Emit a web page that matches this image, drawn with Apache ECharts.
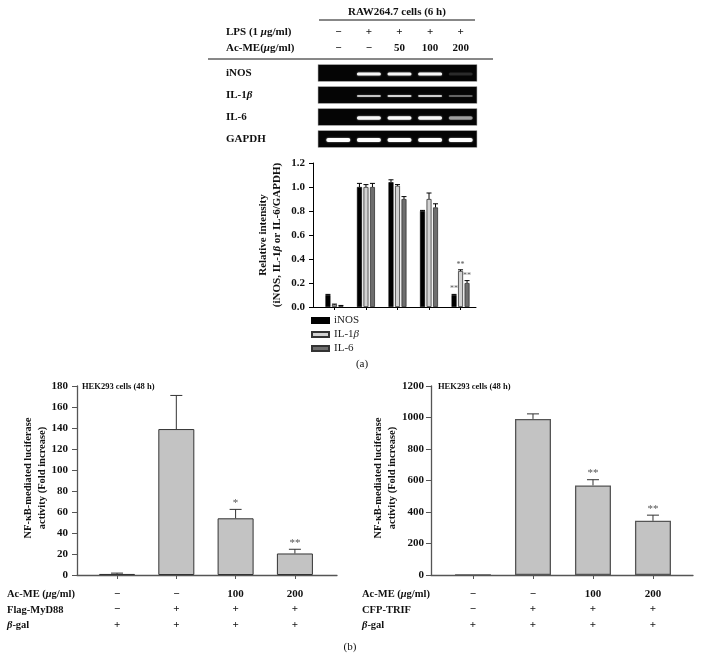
<!DOCTYPE html>
<html><head><meta charset="utf-8">
<script src="https://cdn.jsdelivr.net/npm/echarts@6/dist/echarts.min.js"></script>
<style>html,body{margin:0;padding:0;background:#fff}#c{width:701px;height:669px}</style>
</head><body><div id="c"></div><script>
// ---------- data ----------
const lanes = ['L1','L2','L3','L4','L5'];
const lpsRow = ['−','+','+','+','+'];
const acmeRowA = ['−','−','50','100','200'];
const genes = ['iNOS','IL-1β','IL-6','GAPDH'];
const bandINOS = [0, 0.95, 0.95, 0.95, 0.15];
const bandIL1b = [0, 0.7, 0.78, 0.75, 0.35];
const bandIL6  = [0, 0.95, 0.97, 0.95, 0.55];
const bandGAPDH = [1, 1, 1, 1, 1];

const groupsA = [0, 1, 2, 3, 4];
const inosVals = [0.10, 1.00, 1.04, 0.80, 0.10];
const inosErr  = [0.005, 0.03, 0.02, 0.005, 0.005];
const il1bVals = [0.02, 1.00, 1.01, 0.90, 0.30];
const il1bErr  = [0.004, 0.02, 0.01, 0.05, 0.01];
const il6Vals  = [0.01, 1.00, 0.90, 0.83, 0.20];
const il6Err   = [0.003, 0.03, 0.02, 0.03, 0.02];
const starsA = {iNOS:['','','','','**'], il1b:['','','','','**'], il6:['','','','','**']};
const yTicksA = {min:0, max:1.2, step:0.2};

const groupsB = [0, 1, 2, 3];
const mydVals = [1, 139, 54, 20.5];
const mydErr  = [0.8, 32, 8.5, 4];
const mydStars = ['', '', '*', '**'];
const trifVals = [1, 991, 569, 344];
const trifErr  = [0, 32, 36, 36];
const trifStars = ['', '', '**', '**'];
const acmeRowB = ['−','−','100','200'];
const mydRow = ['−','+','+','+'];
const trifRow = ['−','+','+','+'];
const bgalRow = ['+','+','+','+'];
const yTicksL = {min:0, max:180, step:20};
const yTicksR = {min:0, max:1200, step:200};

// ---------- styles ----------
const FF = 'Liberation Serif';
const chart = echarts.init(document.getElementById('c'), null, {renderer:'canvas'});

function errRender(offset, capW, errs, stars, color, starSize){
  return function(params, api){
    const i = params.dataIndex;
    const x = api.value(0), y = api.value(1);
    const e = errs[i];
    const p0 = api.coord([x, y]);
    const p1 = api.coord([x, y + e]);
    const cx = p0[0] + offset;
    const ch = [];
    if (e > 0) {
      ch.push({type:'line', shape:{x1:cx, y1:p0[1], x2:cx, y2:p1[1]}, style:{stroke:color, lineWidth:1}});
      ch.push({type:'line', shape:{x1:cx-capW/2, y1:p1[1], x2:cx+capW/2, y2:p1[1]}, style:{stroke:color, lineWidth:1}});
    }
    if (stars && stars[i]) {
      ch.push({type:'text', x:cx, y:p1[1]-1, style:{text:stars[i], align:'center', verticalAlign:'bottom', textAlign:'center', textVerticalAlign:'bottom', fontFamily:FF, fontSize:starSize, fill:'#555'}});
    }
    return {type:'group', children:ch};
  };
}

const gelData = [];
[bandINOS, bandIL1b, bandIL6, bandGAPDH].forEach((arr, g) => arr.forEach((v, l) => gelData.push([l, g, v])));
const bandThick = [3, 2.2, 3.5, 4];

function txt(x, y, text, opt){
  opt = opt || {};
  return {type:'text', x:x, y:y, rotation:opt.rot||0, silent:true,
    style:{text:text, fontFamily:FF, fontSize:opt.size||11, fontWeight:opt.weight||'bold', fill:'#111',
      align:opt.align||'left', verticalAlign:'middle', textAlign:opt.align||'left', textVerticalAlign:'middle',
      rich:{i:{fontStyle:'italic', fontFamily:FF, fontSize:opt.size||11, fontWeight:opt.weight||'bold', fill:'#111'}}}};
}

const option = {
  backgroundColor:'#fff',
  animation:false,
  legend:{
    data:['iNOS','IL-1β','IL-6'], orient:'vertical', left:311, top:314, padding:0,
    itemWidth:17, itemHeight:5, itemGap:1, icon:'rect',
    textStyle:{fontFamily:FF, fontSize:11, color:'#222', lineHeight:13,
      rich:{i:{fontStyle:'italic', fontFamily:FF, fontSize:11, color:'#222'}}},
    formatter: n => n.replace('β', '{i|β}')
  },
  grid:[
    {left:313, top:163, width:163, height:144},   // (a) bars
    {left:77, top:386, width:260, height:189},    // (b) left
    {left:431, top:386, width:262, height:189},   // (b) right
    {left:323, top:62, width:153, height:88}      // gels
  ],
  xAxis:[
    {gridIndex:0, type:'value', min:-0.68, max:4.49,
      axisLine:{onZero:false, lineStyle:{color:'#000', width:1}}, splitLine:{show:false},
      axisTick:{show:true, customValues:groupsA, length:3, lineStyle:{color:'#000'}},
      axisLabel:{show:false}},
    {gridIndex:1, type:'value', min:-0.675, max:3.71,
      axisLine:{onZero:false, lineStyle:{color:'#555', width:1.3}}, splitLine:{show:false},
      axisTick:{show:true, customValues:groupsB, length:4, lineStyle:{color:'#555'}},
      axisLabel:{show:true, customValues:groupsB, margin:11, fontFamily:FF, fontSize:11, fontWeight:'bold', color:'#111', lineHeight:15.5,
        formatter: v => acmeRowB[v] + '\n' + mydRow[v] + '\n' + bgalRow[v]}},
    {gridIndex:2, type:'value', min:-0.7, max:3.667,
      axisLine:{onZero:false, lineStyle:{color:'#555', width:1.3}}, splitLine:{show:false},
      axisTick:{show:true, customValues:groupsB, length:4, lineStyle:{color:'#555'}},
      axisLabel:{show:true, customValues:groupsB, margin:11, fontFamily:FF, fontSize:11, fontWeight:'bold', color:'#111', lineHeight:15.5,
        formatter: v => acmeRowB[v] + '\n' + trifRow[v] + '\n' + bgalRow[v]}},
    {gridIndex:3, type:'category', data:lanes, position:'top', boundaryGap:true,
      axisLine:{show:false}, axisTick:{show:false},
      axisLabel:{margin:6, fontFamily:FF, fontSize:11, fontWeight:'bold', color:'#111', lineHeight:16,
        formatter: (v, i) => lpsRow[i] + '\n' + acmeRowA[i]}}
  ],
  yAxis:[
    {gridIndex:0, type:'value', min:yTicksA.min, max:yTicksA.max, interval:yTicksA.step,
      axisLine:{show:true, onZero:false, lineStyle:{color:'#000'}}, splitLine:{show:false},
      axisTick:{show:true, length:4, lineStyle:{color:'#000'}},
      axisLabel:{margin:8, fontFamily:FF, fontSize:11, fontWeight:'bold', color:'#111', formatter: v => v.toFixed(1)}},
    {gridIndex:1, type:'value', min:yTicksL.min, max:yTicksL.max, interval:yTicksL.step,
      axisLine:{show:true, onZero:false, lineStyle:{color:'#555', width:1.3}}, splitLine:{show:false},
      axisTick:{show:true, length:5, lineStyle:{color:'#555'}},
      axisLabel:{margin:9, fontFamily:FF, fontSize:11, fontWeight:'bold', color:'#111', formatter: v => String(v)}},
    {gridIndex:2, type:'value', min:yTicksR.min, max:yTicksR.max, interval:yTicksR.step,
      axisLine:{show:true, onZero:false, lineStyle:{color:'#555', width:1.3}}, splitLine:{show:false},
      axisTick:{show:true, length:5, lineStyle:{color:'#555'}},
      axisLabel:{margin:7, fontFamily:FF, fontSize:11, fontWeight:'bold', color:'#111', formatter: v => String(v)}},
    {gridIndex:3, type:'category', data:genes, inverse:true,
      axisLine:{show:false}, axisTick:{show:false},
      axisLabel:{align:'left', margin:97, fontFamily:FF, fontSize:11, fontWeight:'bold', color:'#111',
        formatter: v => v.replace('β', '{i|β}'),
        rich:{i:{fontStyle:'italic', fontFamily:FF, fontSize:11, fontWeight:'bold', color:'#111'}}}}
  ],
  series:[
    // gels: dark boxes
    {type:'custom', xAxisIndex:3, yAxisIndex:3, silent:true, z:1,
      data:genes.map((g, i) => [0, i]),
      renderItem:(params, api) => {
        const c = api.coord([0, api.value(1)]);
        const cs = params.coordSys;
        return {type:'rect', shape:{x:cs.x-5, y:c[1]-8.5, width:cs.width+6, height:17},
          style:{fill:'#050505', stroke:'#bbb', lineWidth:0.6}};
      }},
    // gels: bands
    {type:'custom', xAxisIndex:3, yAxisIndex:3, silent:true, z:2,
      data:gelData,
      renderItem:(params, api) => {
        const l = api.value(0), g = api.value(1), v = api.value(2);
        if (v <= 0) return null;
        const c = api.coord([l, g]);
        const h = bandThick[g];
        return {type:'rect', shape:{x:c[0]-12, y:c[1]-h/2+1, width:24, height:h, r:h/2},
          style:{fill:'rgba(255,255,255,' + v + ')', shadowBlur:2, shadowColor:'rgba(255,255,255,' + (v*0.6) + ')'}};
      }},
    // (a) bars
    {type:'bar', name:'iNOS', xAxisIndex:0, yAxisIndex:0, barWidth:5, barGap:'30%',
      data:groupsA.map((g, i) => [g, inosVals[i]]),
      itemStyle:{color:'#000', borderColor:'#000', borderWidth:0.6}},
    {type:'bar', name:'IL-1β', xAxisIndex:0, yAxisIndex:0, barWidth:5, barGap:'30%',
      data:groupsA.map((g, i) => [g, il1bVals[i]]),
      itemStyle:{color:'#d2d2d2', borderColor:'#333', borderWidth:0.8}},
    {type:'bar', name:'IL-6', xAxisIndex:0, yAxisIndex:0, barWidth:5, barGap:'30%',
      data:groupsA.map((g, i) => [g, il6Vals[i]]),
      itemStyle:{color:'#6e6e6e', borderColor:'#333', borderWidth:0.8}},
    {type:'custom', xAxisIndex:0, yAxisIndex:0, z:5, encode:{x:0, y:1},
      data:groupsA.map((g, i) => [g, inosVals[i]]),
      renderItem:errRender(-6.5, 5, inosErr, starsA.iNOS, '#000', 8)},
    {type:'custom', xAxisIndex:0, yAxisIndex:0, z:5, encode:{x:0, y:1},
      data:groupsA.map((g, i) => [g, il1bVals[i]]),
      renderItem:errRender(0, 5, il1bErr, starsA.il1b, '#000', 8)},
    {type:'custom', xAxisIndex:0, yAxisIndex:0, z:5, encode:{x:0, y:1},
      data:groupsA.map((g, i) => [g, il6Vals[i]]),
      renderItem:errRender(6.5, 5, il6Err, starsA.il6, '#000', 8)},
    // (b) left
    {type:'bar', name:'MyD88', xAxisIndex:1, yAxisIndex:1, barWidth:36,
      data:groupsB.map((g, i) => [g, mydVals[i]]),
      itemStyle:{color:'#c3c3c3', borderColor:'#333', borderWidth:1}},
    {type:'custom', xAxisIndex:1, yAxisIndex:1, z:5, encode:{x:0, y:1},
      data:groupsB.map((g, i) => [g, mydVals[i]]),
      renderItem:errRender(0, 12, mydErr, mydStars, '#333', 11)},
    // (b) right
    {type:'bar', name:'TRIF', xAxisIndex:2, yAxisIndex:2, barWidth:36,
      data:groupsB.map((g, i) => [g, trifVals[i]]),
      itemStyle:{color:'#c3c3c3', borderColor:'#555', borderWidth:1.3}},
    {type:'custom', xAxisIndex:2, yAxisIndex:2, z:5, encode:{x:0, y:1},
      data:groupsB.map((g, i) => [g, trifVals[i]]),
      renderItem:errRender(0, 12, trifErr, trifStars, '#333', 11)}
  ],
  graphic:[
    txt(397, 12, 'RAW264.7 cells (6 h)', {align:'center'}),
    {type:'line', shape:{x1:319, y1:20, x2:475, y2:20}, style:{stroke:'#111', lineWidth:1}},
    txt(226, 32, 'LPS (1 {i|μ}g/ml)'),
    txt(226, 48, 'Ac-ME({i|μ}g/ml)'),
    {type:'line', shape:{x1:208, y1:59, x2:493, y2:59}, style:{stroke:'#111', lineWidth:1}},
    txt(263, 235, 'Relative intensity', {align:'center', rot:Math.PI/2}),
    txt(277, 235, '(iNOS, IL-1{i|β} or IL-6/GAPDH)', {align:'center', rot:Math.PI/2}),
    txt(362, 364, '(a)', {align:'center', weight:'normal'}),
    txt(82, 387, 'HEK293 cells (48 h)', {size:8.5}),
    txt(438, 387, 'HEK293 cells (48 h)', {size:8.5}),
    txt(28, 478, 'NF-κB-mediated luciferase', {align:'center', rot:Math.PI/2, size:10.5}),
    txt(42, 478, 'activity (Fold increase)', {align:'center', rot:Math.PI/2, size:10.5}),
    txt(378, 478, 'NF-κB-mediated luciferase', {align:'center', rot:Math.PI/2, size:10.5}),
    txt(392, 478, 'activity (Fold increase)', {align:'center', rot:Math.PI/2, size:10.5}),
    txt(7, 594, 'Ac-ME ({i|μ}g/ml)', {size:10.5}),
    txt(7, 610, 'Flag-MyD88', {size:10.5}),
    txt(7, 625, '{i|β}-gal', {size:10.5}),
    txt(362, 594, 'Ac-ME ({i|μ}g/ml)', {size:10.5}),
    txt(362, 610, 'CFP-TRIF', {size:10.5}),
    txt(362, 625, '{i|β}-gal', {size:10.5}),
    txt(350, 647, '(b)', {align:'center', weight:'normal'})
  ]
};
chart.setOption(option);
</script></body></html>
